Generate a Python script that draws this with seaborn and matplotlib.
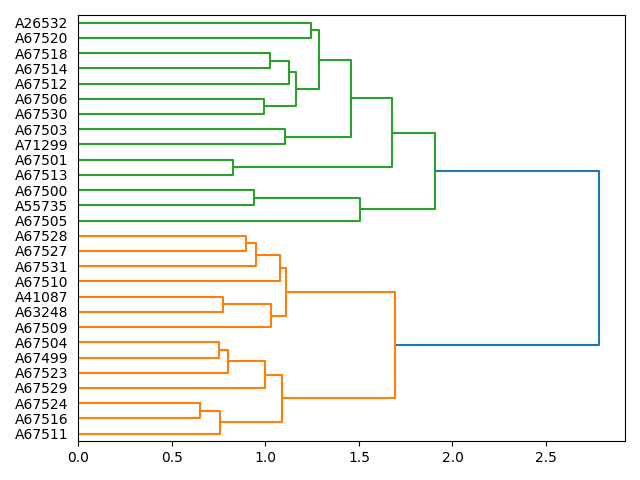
import matplotlib
matplotlib.use("Agg")
import matplotlib.pyplot as plt
import seaborn as sns
import pandas as pd

# Leaf labels, bottom-to-top order
leaf_labels = ["A67511", "A67516", "A67524", "A67529", "A67523", "A67499", "A67504",
               "A67509", "A63248", "A41087", "A67510", "A67531", "A67527", "A67528",
               "A67505", "A55735", "A67500", "A67513", "A67501", "A71299", "A67503",
               "A67530", "A67506", "A67512", "A67514", "A67518", "A67520", "A26532"]

# Linkage-style merges: ids >= n refer to earlier merges (n + k)
merge_left = [1, 0, 5, 4, 3, 29, 8, 7, 12, 11, 10, 35, 33, 15, 14, 17, 19, 21, 24, 23, 45, 26, 48, 44, 43, 42, 40]
merge_right = [2, 28, 6, 30, 31, 32, 9, 34, 13, 36, 37, 38, 39, 16, 41, 18, 20, 22, 25, 46, 47, 27, 49, 50, 51, 52, 53]
merge_height = [0.652, 0.759, 0.754, 0.802, 1.000, 1.091, 0.775, 1.030, 0.898, 0.952,
                1.080, 1.111, 1.691, 0.941, 1.503, 0.829, 1.107, 0.991, 1.027, 1.128,
                1.161, 1.241, 1.289, 1.455, 1.679, 1.905, 2.783]

palette = ["#ff7f0e", "#2ca02c", "#d62728", "#9467bd"]
above_color = "#1f77b4"

n = len(leaf_labels)
pos = {i: 5 + 10 * i for i in range(n)}
hgt = {i: 0.0 for i in range(n)}
for k, (a, b, h) in enumerate(zip(merge_left, merge_right, merge_height)):
    pos[n + k] = (pos[a] + pos[b]) / 2
    hgt[n + k] = h

threshold = 0.7 * max(merge_height)
root = n + len(merge_height) - 1

# Assign colors: subtrees under threshold get a palette color (in leaf order)
link_color = {}
counter = [0]

def color_subtree(node, c):
    if node < n:
        return
    k = node - n
    link_color[k] = c
    color_subtree(merge_left[k], c)
    color_subtree(merge_right[k], c)

def walk(node):
    if node < n:
        return
    k = node - n
    if hgt[node] < threshold:
        c = palette[counter[0] % len(palette)]
        counter[0] += 1
        color_subtree(node, c)
    else:
        link_color[k] = above_color
        kids = sorted([merge_left[k], merge_right[k]], key=lambda z: pos[z])
        for ch in kids:
            walk(ch)

walk(root)

rows = []
for k, (a, b, h) in enumerate(zip(merge_left, merge_right, merge_height)):
    pts = [(hgt[a], pos[a]), (h, pos[a]), (h, pos[b]), (hgt[b], pos[b])]
    for j, (x, y) in enumerate(pts):
        rows.append({"x": x, "y": y, "link": k, "order": j, "color": link_color[k]})
df = pd.DataFrame(rows)

fig, ax = plt.subplots(figsize=(6.4, 4.8), dpi=100)
for c, sub in df.groupby("color"):
    sns.lineplot(data=sub, x="x", y="y", units="link", estimator=None, sort=False,
                 color=c, linewidth=1.5, ax=ax, legend=False)

ax.set_xlim(0, max(merge_height) * 1.05)
ax.set_ylim(0, 10 * n)
ax.set_yticks([pos[i] for i in range(n)])
ax.set_yticklabels(leaf_labels, fontsize=10)
for line in ax.get_yticklines():
    line.set_visible(False)
ax.set_xlabel("")
ax.set_ylabel("")
fig.tight_layout()
fig.savefig("out.png", dpi=100)
